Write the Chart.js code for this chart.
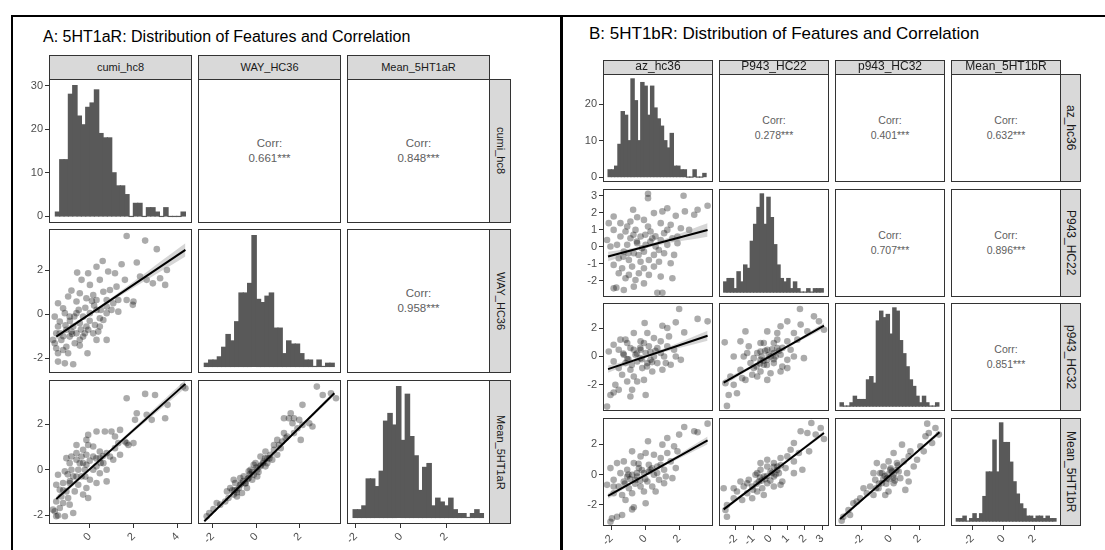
<!DOCTYPE html>
<html>
<head>
<meta charset="utf-8">
<script src="https://cdn.jsdelivr.net/npm/chart.js@4.4.0/dist/chart.umd.min.js"></script>
<style>
  body { margin: 0; background: #fff; font-family: "Liberation Sans", Arial, sans-serif; }
  #page { position: relative; width: 1105px; height: 550px; overflow: hidden; background: #fff; }
  #page canvas { position: absolute; }
  .rule { position: absolute; background: #000; }
  .title { position: absolute; color: #000; white-space: nowrap; line-height: 1; }
  .strip { position: absolute; box-sizing: border-box; background: #d9d9d9; border: 1px solid #333;
           color: #1a1a1a; display: flex; align-items: center; justify-content: center; white-space: nowrap; }
  .strip.side { writing-mode: vertical-rl; }
  .box { position: absolute; box-sizing: border-box; border: 1px solid #333; pointer-events: none; z-index: 2; }
  .corr { position: absolute; display: flex; flex-direction: column; align-items: center; justify-content: center;
          color: #606060; line-height: 15px; }
</style>
</head>
<body>
<div id="page"></div>
<script>
// ---------- A: 5HT1aR ----------
const varsA = ['cumi_hc8', 'WAY_HC36', 'Mean_5HT1aR'];
const limitsA = [[-1.85, 4.65], [-2.68, 3.89], [-2.38, 3.94]];
const ticksA = [[0, 2, 4], [-2, 0, 2], [-2, 0, 2]];
const countTicksA = [0, 10, 20, 30];
const corrA = { '0-1': '0.661***', '0-2': '0.848***', '1-2': '0.958***' };

// histograms: counts per bin, [first bin edge, bin width]
const countsA1 = [1, 13, 13, 28, 30, 23, 21, 25, 26, 29, 19, 18, 18, 10, 7, 7, 5, 0, 3, 3, 0, 2, 2, 1, 0, 2, 0, 0, 0, 1];
const binsA1 = [-1.56, 0.197];
const countsA2 = [1, 2, 2, 3, 6, 10, 8, 14, 23, 23, 26, 41, 21, 20, 22, 23, 12, 12, 4, 8, 7, 7, 4, 2, 2, 0, 2, 0, 1, 1];
const binsA2 = [-2.39, 0.199];
const countsA3 = [2, 2, 3, 10, 10, 8, 12, 25, 27, 24, 34, 20, 32, 21, 16, 7, 13, 14, 3, 5, 4, 3, 5, 2, 1, 1, 0, 1, 2, 1];
const binsA3 = [-2.11, 0.192];

// scatter points [x, y], fitted line ends, band [x, half width]
const ptsA21 = [[1.68,3.57],[2.52,3.36],[3.05,2.97],[0.59,2.43],[1.45,2.28],[2.14,2.36],[0.31,2.17],[0.84,1.95],[1.15,1.87],[-0.07,1.87],[-0.57,1.90],[3.51,2.02],[3.20,1.64],[2.87,1.41],[3.43,1.34],[2.59,1.57],[2.29,1.72],[1.60,1.57],[1.22,1.26],[0.46,1.57],[0.01,1.34],[-0.37,1.57],[-0.83,1.08],[-0.45,0.96],[0.16,0.88],[0.62,1.03],[0.92,1.11],[1.68,0.65],[1.99,0.58],[1.96,0.43],[1.30,0.65],[0.77,0.65],[0.31,0.65],[-0.15,0.73],[-0.60,0.58],[-0.98,0.81],[-1.44,0.50],[-1.21,0.27],[-1.59,-0.11],[-1.36,-0.33],[-1.52,-0.87],[-1.06,-0.71],[-0.91,-1.02],[-0.75,-0.56],[-0.45,-0.41],[-0.15,-0.56],[-0.30,-0.11],[0.01,0.05],[0.31,0.20],[0.46,-0.18],[0.77,0.05],[0.99,0.20],[0.46,-0.56],[0.16,-0.87],[0.77,0.35],[1.07,0.50],[1.30,0.12],[-0.60,0.05],[-0.91,-0.11],[-1.13,0.05],[-1.44,-0.56],[-1.29,-1.17],[-1.06,-1.48],[-1.44,-1.78],[-1.21,-1.63],[-0.98,-1.78],[-0.68,-1.32],[-0.45,-1.17],[-0.30,-1.02],[-0.07,-0.71],[0.24,-0.49],[0.39,-0.79],[0.62,-0.26],[-1.59,-1.32],[-1.44,-2.16],[-1.13,-2.24],[-0.75,-2.28],[-1.52,-1.55],[-0.45,-1.43],[-0.10,-1.78],[0.31,-1.17],[0.77,-1.17],[-0.83,-0.79],[-0.22,-0.87],[-0.60,-0.87],[-1.36,-0.87],[-1.67,-1.17],[-0.9,-0.3],[-0.7,-0.1],[-0.5,0.2],[-0.2,0.3],[0,-0.3],[0.2,0.4],[-1.1,-0.5],[-0.4,-0.7],[0.1,0.6],[0.5,0.2],[-1.2,-1.0],[-0.8,-0.9]];
const fitA21 = [[-1.52, -1.02], [4.35, 2.94]];
const bandA21 = [[-1.52, 0.15], [0.3, 0.06], [4.35, 0.3]];

const ptsA31 = [[4.24,3.65],[4.35,3.58],[2.52,3.33],[2.97,3.28],[3.54,2.85],[1.68,3.14],[2.14,2.48],[2.59,2.41],[2.82,2.19],[3.43,2.26],[2.06,2.19],[1.38,1.75],[0.99,1.68],[0.69,1.68],[0.31,1.68],[1.15,1.46],[1.60,1.24],[1.99,1.17],[1.76,1.09],[1.30,1.17],[-0.15,1.31],[-0.07,1.09],[-0.60,1.09],[-0.30,0.88],[0.16,1.02],[0.46,0.80],[0.77,0.73],[0.92,0.58],[1.07,0.44],[0.46,0.51],[0.16,0.58],[-0.15,0.66],[-0.37,0.58],[-0.60,0.44],[-0.91,0.29],[-1.06,0.51],[-0.45,0.29],[-0.15,0.22],[0.31,0.15],[0.62,0.29],[0.77,0.0],[0.46,-0.15],[0.16,0.0],[-0.22,0.0],[-0.52,0.0],[-0.83,0.0],[-1.13,-0.07],[-0.75,-0.29],[-0.37,-0.29],[0.01,-0.44],[0.31,-0.58],[0.77,-0.51],[-0.15,-0.80],[-0.52,-0.66],[-0.91,-0.58],[-1.21,-0.58],[-1.44,-0.22],[-1.52,-0.66],[-1.36,-0.88],[-1.06,-0.95],[-0.68,-0.95],[-0.30,-1.09],[-0.07,-1.24],[-0.98,-1.24],[-1.29,-1.17],[-1.52,-1.39],[-1.21,-1.46],[-0.91,-1.53],[-1.36,-1.68],[-1.59,-1.82],[-1.44,-2.01],[-1.13,-2.04],[-0.75,-1.90],[-1.52,-2.04],[-1.67,-1.75],[1.15,0.95],[1.68,1.17],[-0.07,1.53],[1.38,0.66],[-0.60,0.73],[-0.83,0.58],[-0.3,0.3],[0,0.4],[0.3,0.5],[-0.6,-0.3],[-0.9,-0.5],[-1.2,-0.9],[0.6,0.6],[-0.2,-0.3],[0.5,0.3],[-1.0,-0.2]];
const fitA31 = [[-1.52, -1.28], [4.35, 3.77]];
const bandA31 = [[-1.52, 0.12], [0.3, 0.05], [4.35, 0.18]];

const ptsA32 = [[-2.28,-2.04],[-2.16,-1.90],[-1.97,-1.72],[-1.66,-1.53],[-1.28,-1.24],[-1.04,-1.09],[-1.20,-0.80],[-0.89,-0.88],[-0.74,-0.66],[-0.97,-0.58],[-0.50,-0.58],[-0.35,-0.36],[-0.58,-0.29],[-0.12,-0.22],[-0.27,0.0],[0.04,0.0],[0.19,0.15],[0.34,0.36],[-0.04,0.29],[0.50,0.51],[0.65,0.66],[0.42,0.80],[0.81,0.88],[1.04,1.09],[1.19,1.24],[0.96,1.31],[1.35,1.39],[1.27,2.26],[1.50,2.26],[1.66,2.04],[1.73,1.61],[2.12,1.97],[2.43,2.04],[2.12,2.85],[2.78,3.65],[3.05,3.28],[3.43,3.36],[3.66,3.14],[1.58,2.48],[1.89,1.82],[1.42,1.46],[0.73,0.44],[-0.19,-0.44],[-0.66,-1.02],[-0.43,-0.80],[-1.43,-1.39],[-1.82,-1.46],[-1.04,-0.44],[0.19,0.58],[0.42,0.15],[0.04,-0.29],[-0.35,-0.07],[-0.74,-0.36],[-1.35,-0.95],[-0.89,-1.17],[-0.12,0.22],[0.50,0.29],[0.96,0.66],[1.12,0.95],[0.81,1.09],[1.73,2.26],[1.97,2.19],[1.27,1.61],[2.58,1.90],[2.04,1.31],[-0.8,-0.8],[-0.6,-0.5],[-0.4,-0.4],[-0.2,-0.1],[0.0,0.1],[0.2,0.2],[0.4,0.5],[-1.0,-0.9],[-0.5,-0.6],[0.1,-0.1],[0.6,0.5],[-0.3,-0.2],[-0.9,-1.0],[-1.1,-0.9],[0.3,0.3],[-0.7,-0.6]];
const fitA32 = [[-2.39, -2.26], [3.585, 3.36]];
const bandA32 = [[-2.39, 0.08], [0.0, 0.03], [3.585, 0.1]];

// ---------- B: 5HT1bR ----------
const varsB = ['az_hc36', 'P943_HC22', 'p943_HC32', 'Mean_5HT1bR'];
const limitsB = [[-2.5, 4.0], [-2.97, 3.39], [-3.84, 3.76], [-3.38, 3.71]];
const ticksB = [[-2, 0, 2], [-2, -1, 0, 1, 2, 3], [-2, 0, 2], [-2, 0, 2]];
const countTicksB = [0, 10, 20];
const corrB = { '0-1': '0.278***', '0-2': '0.401***', '0-3': '0.632***', '1-2': '0.707***', '1-3': '0.896***', '2-3': '0.851***' };

const countsB1 = [2, 2, 3, 9, 18, 17, 10, 27, 21, 10, 26, 25, 17, 25, 19, 16, 14, 10, 8, 12, 3, 3, 2, 2, 0, 0, 2, 0, 0, 1];
const binsB1 = [-2.20, 0.193];
const countsB2 = [3, 4, 4, 1, 6, 3, 8, 7, 15, 20, 25, 29, 20, 28, 22, 14, 8, 4, 3, 4, 1, 3, 1, 0, 0, 1, 0, 1, 1, 1];
const binsB2 = [-2.70, 0.192];
const countsB3 = [1, 0, 0, 1, 3, 2, 2, 2, 8, 9, 7, 26, 29, 27, 28, 22, 30, 29, 20, 16, 12, 8, 6, 3, 1, 3, 1, 0, 0, 1];
const binsB3 = [-3.49, 0.2275];
const countsB4 = [1, 1, 2, 0, 1, 3, 1, 3, 10, 20, 20, 33, 20, 40, 32, 32, 24, 16, 11, 7, 5, 2, 2, 1, 2, 2, 1, 2, 1, 1];
const binsB4 = [-3.04, 0.2143];

const ptsB21 = [[0.16,3.11],[0.16,2.85],[2.26,2.99],[-0.72,2.17],[1.30,2.26],[1.01,2.07],[3.68,2.40],[3.09,2.17],[2.89,1.87],[2.34,2.07],[1.80,1.81],[0.51,1.97],[-0.48,1.73],[-1.87,1.77],[-2.16,1.38],[-1.47,1.38],[-0.88,1.48],[-0.08,1.57],[0.91,1.38],[1.50,1.28],[2.10,1.08],[2.59,0.98],[-1.87,0.98],[-1.17,0.89],[-0.58,0.98],[0.31,0.89],[1.11,0.79],[-1.47,0.59],[-0.88,0.49],[-0.28,0.59],[0.41,0.49],[0.91,0.39],[1.60,0.49],[-2.06,0.0],[-1.67,0.10],[-1.07,0.10],[-0.48,0.20],[0.02,0.10],[0.61,0.0],[1.30,0.10],[1.90,0.20],[-1.27,-0.30],[-0.68,-0.39],[-0.08,-0.30],[0.51,-0.49],[1.11,-0.39],[1.70,-0.49],[-1.57,-0.69],[-0.97,-0.79],[-0.28,-0.89],[0.21,-0.79],[0.81,-0.89],[-1.87,-1.08],[-1.37,-1.28],[-0.78,-1.18],[-0.08,-1.28],[0.51,-1.18],[1.50,-0.98],[-1.57,-1.57],[-0.97,-1.67],[-0.38,-1.57],[0.21,-1.67],[-1.17,-1.87],[-0.58,-1.97],[0.91,-1.77],[1.60,-1.87],[-0.08,-2.17],[-1.87,-2.46],[-1.71,-2.42],[-1.27,-2.56],[-0.68,-2.36],[0.71,-2.72],[1.01,-2.72],[1.90,0.59],[1.30,0.98],[0.16,1.18],[-1.07,1.18],[-2.26,0.39],[-0.5,0.3],[-0.2,-0.1],[0.3,0.3],[-1.0,-0.4],[-0.7,0.7],[0.0,0.7],[-1.3,-0.6],[0.6,0.6],[-0.4,-0.5],[0.8,-0.2]];
const fitB21 = [[-2.20, -0.59], [3.68, 0.98]];
const bandB21 = [[-2.2, 0.28], [0.1, 0.09], [3.68, 0.4]];

const ptsB31 = [[2.0,3.34],[3.68,2.47],[3.09,2.64],[1.80,2.40],[-0.04,2.35],[1.01,2.16],[1.30,2.0],[2.30,1.69],[1.40,1.41],[-0.68,1.65],[0.12,1.65],[-1.47,1.18],[-1.87,0.82],[-1.07,0.94],[-0.28,1.06],[0.51,1.29],[0.91,1.06],[-2.16,0.35],[-1.57,0.47],[-0.88,0.59],[-0.28,0.47],[0.21,0.71],[0.71,0.59],[1.30,0.71],[1.70,0.47],[-1.27,0.12],[-0.58,0.12],[0.02,0.24],[0.51,0.0],[1.11,0.0],[1.80,0.0],[-1.87,-0.35],[-1.17,-0.47],[-0.48,-0.35],[0.12,-0.47],[0.71,-0.47],[1.50,-0.59],[-1.57,-0.82],[-0.88,-0.94],[-0.18,-0.82],[0.41,-1.06],[1.01,-0.94],[-1.37,-1.29],[-0.68,-1.41],[-0.08,-1.65],[-1.07,-1.76],[-0.48,-1.76],[-1.77,-2.0],[-0.78,-2.35],[0.02,-2.71],[-2.06,-2.71],[-1.87,-2.54],[-1.57,-2.35],[-0.88,-2.82],[-2.26,-3.53],[-1.07,-0.19],[-0.28,-0.12],[0.31,-0.24],[-0.68,0.47],[-0.08,0.94],[0.91,0.24],[1.21,-0.47],[2.10,-0.24],[-1.17,1.18],[-0.5,0.2],[-0.2,-0.2],[0.3,0.3],[-1.0,-0.2],[0.6,0.4],[-0.3,0.6],[-0.8,-0.6],[0.1,-0.7],[0.4,-0.4],[-1.3,0.2]];
const fitB31 = [[-2.20, -0.89], [3.68, 1.46]];
const bandB31 = [[-2.2, 0.25], [0.1, 0.08], [3.68, 0.35]];

const ptsB41 = [[3.68,3.34],[2.89,2.84],[2.30,3.12],[2.0,2.62],[3.09,2.77],[1.30,2.40],[0.16,2.18],[-0.78,1.52],[0.02,1.41],[0.51,1.30],[1.01,1.96],[1.70,1.85],[1.90,1.52],[-0.28,1.19],[0.91,1.08],[1.50,0.86],[-1.27,0.86],[-1.67,0.75],[-0.68,0.75],[0.21,0.64],[0.71,0.53],[-2.06,0.42],[-1.07,0.31],[-0.38,0.42],[1.11,0.31],[1.80,0.42],[-1.47,0.09],[-0.78,-0.02],[-0.08,0.09],[0.51,-0.02],[1.21,-0.13],[-2.26,-0.68],[-1.87,-0.35],[-1.27,-0.46],[-0.58,-0.35],[0.12,-0.46],[0.81,-0.35],[1.60,-0.24],[-1.57,-0.79],[-0.97,-0.90],[-0.28,-0.79],[0.41,-0.79],[1.11,-0.57],[-1.37,-1.34],[-0.78,-1.23],[-0.08,-1.12],[0.61,-1.12],[-1.87,-1.23],[-1.17,-1.67],[-0.68,-2.15],[-0.78,-2.29],[0.02,-1.89],[-1.97,-2.88],[-1.67,-2.77],[-1.37,-2.66],[-2.06,-3.10],[-0.48,-0.13],[-1.07,-0.13],[0.31,0.31],[0.91,0.64],[1.30,1.41],[-1.87,-0.79],[-0.5,0.1],[-0.2,0.3],[0.2,0.2],[-0.9,-0.3],[-0.6,-0.6],[0.4,0.4],[-1.2,-0.6],[0.0,-0.3],[-0.3,-0.4],[0.7,0.1],[-1.0,0.0],[-0.4,0.7]];
const fitB41 = [[-2.20, -1.41], [3.68, 2.24]];
const bandB41 = [[-2.2, 0.18], [0.1, 0.06], [3.68, 0.25]];

const ptsB32 = [[1.71,3.34],[2.81,2.47],[3.10,1.88],[2.52,2.82],[1.75,2.24],[0.98,2.47],[0.59,2.12],[2.14,1.76],[1.36,1.65],[0.40,1.65],[-0.18,1.76],[-1.44,1.76],[-2.64,0.99],[-1.73,1.06],[-1.25,0.71],[-0.57,0.94],[0.20,0.94],[0.98,1.06],[1.56,1.18],[-2.12,0.0],[-1.54,0.0],[-0.76,0.24],[-0.18,0.47],[0.40,0.59],[1.17,0.47],[1.94,-0.12],[-1.15,-0.47],[-0.57,-0.24],[0.01,0.0],[0.59,0.12],[0.98,-0.24],[-1.73,-0.94],[-0.96,-0.82],[-0.38,-0.59],[0.20,-0.47],[0.69,-0.71],[-2.31,-1.41],[-1.63,-1.53],[-1.05,-1.29],[-0.57,-1.06],[0.01,-1.18],[0.59,-1.06],[-2.60,-1.88],[-2.12,-2.0],[-1.44,-1.65],[-2.41,-2.71],[-1.93,-2.59],[-2.51,-3.48],[-0.76,-1.41],[-0.18,-1.65],[0.98,-0.82],[1.36,0.0],[-0.18,-0.24],[-0.57,0.35],[0.20,0.24],[-0.96,-0.12],[-1.34,0.24],[0.40,1.18],[-0.38,0.94],[-0.4,-0.3],[-0.1,0.1],[0.2,-0.2],[-0.6,-0.5],[0.5,0.4],[-0.3,0.4],[0.1,0.5],[-0.8,-0.7],[0.3,0.0],[-0.2,-0.6],[0.7,0.6],[-0.5,0.0]];
const fitB32 = [[-2.70, -1.84], [3.10, 2.16]];
const bandB32 = [[-2.7, 0.2], [0.0, 0.06], [3.1, 0.2]];

const ptsB42 = [[2.37,3.38],[2.91,3.05],[1.75,2.84],[2.14,2.73],[2.62,2.62],[3.10,2.33],[2.24,1.52],[1.36,2.07],[1.17,1.63],[1.65,1.41],[0.98,1.19],[0.59,1.08],[1.36,0.86],[0.20,0.75],[-0.18,0.53],[0.40,0.53],[0.88,0.42],[-0.57,0.31],[0.01,0.20],[0.49,0.09],[-0.86,-0.02],[-0.38,-0.13],[0.20,-0.13],[0.69,-0.46],[-1.25,-0.35],[-0.67,-0.46],[-0.18,-0.57],[-1.54,-0.79],[-1.05,-0.79],[-0.47,-0.90],[0.20,-0.79],[-1.93,-1.12],[-1.34,-1.23],[-0.76,-1.12],[-2.12,-1.56],[-1.63,-1.67],[-1.05,-1.56],[-2.51,-2.0],[-2.60,-2.33],[-2.51,-2.77],[-2.70,-0.90],[-2.12,-0.90],[-1.73,-0.46],[-1.34,-0.57],[-0.38,-1.34],[0.59,-0.68],[1.36,0.09],[1.85,0.31],[-0.18,0.97],[-0.57,0.75],[-0.76,0.09],[-0.5,-0.4],[-0.2,-0.1],[0.1,0.1],[0.4,0.3],[-0.8,-0.6],[-0.3,-0.3],[0.3,0.0],[-0.6,-0.2],[0.6,0.6],[-1.0,-1.0],[0.0,-0.4],[0.2,0.5]];
const fitB42 = [[-2.70, -2.29], [3.10, 2.73]];
const bandB42 = [[-2.7, 0.14], [0.0, 0.04], [3.1, 0.14]];

const ptsB43 = [[2.53,3.34],[3.10,3.05],[3.34,2.62],[2.64,2.73],[2.41,2.51],[2.06,1.85],[0.79,1.96],[1.37,1.52],[1.25,1.19],[0.91,0.86],[0.21,1.41],[0.44,0.75],[-0.14,0.86],[-0.95,0.75],[-0.02,0.31],[-0.72,0.09],[0.56,0.20],[1.14,0.09],[1.25,-0.46],[0.67,-0.24],[-0.25,-0.24],[-1.06,-0.35],[-0.60,-0.57],[0.21,-0.57],[-1.41,-0.79],[-0.83,-0.90],[-0.14,-1.12],[-1.87,-0.90],[-1.64,-1.23],[-1.18,-1.34],[-0.37,-1.34],[-2.34,-1.78],[-2.10,-1.56],[-2.57,-1.89],[-2.91,-2.33],[-3.26,-2.77],[-2.80,-2.66],[-3.38,-3.03],[1.02,-1.01],[1.60,0.53],[1.83,0.97],[2.29,1.52],[2.87,2.07],[-0.48,0.53],[0.21,0.0],[-1.18,0.09],[-0.5,-0.3],[-0.2,0.0],[0.1,0.2],[-0.8,-0.6],[0.4,0.3],[-0.3,-0.6],[0.2,-0.2],[-0.6,0.1],[0.5,0.6],[-1.0,-0.9],[0.0,0.4],[-0.4,-0.1],[0.3,-0.4],[-0.1,-0.3]];
const fitB43 = [[-3.49, -2.92], [3.38, 2.77]];
const bandB43 = [[-3.49, 0.16], [0.0, 0.04], [3.38, 0.16]];

// ---------- layout ----------
const FONT = '"Liberation Sans", Arial, sans-serif';
const page = document.getElementById('page');

const layoutA = { cols: [49, 198, 347], rows: [79, 229, 380], w: 143, h: 144, axisLeft: 30, axisBottom: 24,
                  strip: 24, side: 22, stripFont: 11, stripPad: 0, corrFont: 11.5 };
const layoutB = { cols: [603, 719, 835, 951], rows: [74, 189, 303, 418], w: 110, h: 108, axisLeft: 24, axisBottom: 24,
                  strip: 14, side: 21, stripFont: 12, stripPad: 3, corrFont: 10.5 };

function addDiv(cls, x, y, w, h, html, extra) {
  const d = document.createElement('div');
  d.className = cls;
  d.style.left = x + 'px';
  d.style.top = y + 'px';
  if (w != null) d.style.width = w + 'px';
  if (h != null) d.style.height = h + 'px';
  if (html) d.innerHTML = html;
  if (extra) Object.assign(d.style, extra);
  page.appendChild(d);
  return d;
}

function axis(kind, show, lim, ticks, size) {
  return {
    type: 'linear', display: show, min: lim[0], max: lim[1], offset: false,
    grid: { display: true, offset: false, drawOnChartArea: false, drawTicks: true, tickLength: 4, tickColor: '#333', lineWidth: 1 },
    border: { display: false },
    ticks: {
      color: '#4d4d4d', font: { family: FONT, size: 11 }, padding: 2, autoSkip: false,
      minRotation: kind === 'x' ? 45 : 0, maxRotation: kind === 'x' ? 45 : 0,
      callback: v => String(v)
    },
    afterBuildTicks: s => { s.ticks = ticks.map(v => ({ value: v })); },
    afterFit: s => {
      if (!show) return;
      if (kind === 'x') s.height = size; else s.width = size;
      s.paddingLeft = 0; s.paddingRight = 0; s.paddingTop = 0; s.paddingBottom = 0;
    }
  };
}

function panelChart(L, x, y, showX, showY, type, datasets, xLim, yLim, xTicks, yTicks) {
  const ml = showY ? L.axisLeft : 0;
  const mb = showX ? L.axisBottom : 0;
  const c = document.createElement('canvas');
  c.width = L.w + ml;
  c.height = L.h + mb;
  c.style.left = (x - ml) + 'px';
  c.style.top = y + 'px';
  page.appendChild(c);
  new Chart(c, {
    type: type,
    data: { datasets: datasets },
    options: {
      responsive: false, animation: false, events: [],
      layout: { padding: 0, autoPadding: false },
      plugins: { legend: { display: false }, tooltip: { enabled: false } },
      scales: {
        x: axis('x', showX, xLim, xTicks, L.axisBottom),
        y: axis('y', showY, yLim, yTicks, L.axisLeft)
      }
    }
  });
}

function lineY(fit, x) {
  const [[x1, y1], [x2, y2]] = fit;
  return y1 + (y2 - y1) * (x - x1) / (x2 - x1);
}

function histSets(counts, bins) {
  return [{
    data: counts.map((n, i) => ({ x: bins[0] + (i + 0.5) * bins[1], y: n })),
    backgroundColor: '#595959', borderWidth: 0, barPercentage: 1, categoryPercentage: 1, inflateAmount: 0.6
  }];
}

function scatterSets(pts, fit, band) {
  return [
    { data: fit.map(([x, y]) => ({ x, y })), showLine: true, borderColor: '#000', borderWidth: 2, pointRadius: 0, order: 1 },
    { data: band.map(([x, hw]) => ({ x, y: lineY(fit, x) + hw })), showLine: true, tension: 0.4,
      borderColor: 'rgba(0,0,0,0)', pointRadius: 0, fill: '+1', backgroundColor: 'rgba(153,153,153,0.4)', order: 2 },
    { data: band.map(([x, hw]) => ({ x, y: lineY(fit, x) - hw })), showLine: true, tension: 0.4,
      borderColor: 'rgba(0,0,0,0)', pointRadius: 0, fill: false, order: 2 },
    { data: pts.map(([x, y]) => ({ x, y })), pointRadius: 3.3, backgroundColor: 'rgba(0,0,0,0.33)',
      borderColor: 'rgba(0,0,0,0)', pointBorderWidth: 0, order: 3 }
  ];
}

function buildMatrix(L, vars, limits, ticks, countTicks, hists, scatters, corrs) {
  const n = vars.length;
  const stripStyle = { fontSize: L.stripFont + 'px', lineHeight: L.stripFont + 'px' };
  for (let i = 0; i < n; i++) {
    for (let j = 0; j < n; j++) {
      const x = L.cols[j], y = L.rows[i];
      const showX = i === n - 1, showY = j === 0;
      if (i === j) {
        const [counts, bins] = hists[i];
        const top = Math.max(...counts);
        panelChart(L, x, y, showX, showY, 'bar', histSets(counts, bins),
          limits[j], [-0.05 * top, 1.05 * top], ticks[j], j === 0 ? countTicks : []);
      } else if (i > j) {
        const [pts, fit, band] = scatters[i + '-' + j];
        panelChart(L, x, y, showX, showY, 'scatter', scatterSets(pts, fit, band),
          limits[j], limits[i], ticks[j], ticks[i]);
      } else {
        addDiv('corr', x, y, L.w, L.h, '<div>Corr:</div><div>' + corrs[i + '-' + j] + '</div>', { fontSize: L.corrFont + 'px' });
      }
      addDiv('box', x, y, L.w, L.h);
    }
    // strips
    addDiv('strip', L.cols[i], L.rows[0] - L.strip, L.w, L.strip + 1, vars[i],
      Object.assign({ paddingBottom: L.stripPad + 'px' }, stripStyle));
    addDiv('strip side', L.cols[n - 1] + L.w - 1, L.rows[i], L.side, L.h, vars[i], stripStyle);
  }
}

// frame and titles
addDiv('rule', 11, 15, 1094, 2);
addDiv('rule', 11, 15, 2, 535);
addDiv('rule', 560, 15, 3, 535);
addDiv('title', 43, 29, null, null, 'A: 5HT1aR: Distribution of Features and Correlation', { fontSize: '16px' });
addDiv('title', 589, 25, null, null, 'B: 5HT1bR: Distribution of Features and Correlation', { fontSize: '17px' });

buildMatrix(layoutA, varsA, limitsA, ticksA, countTicksA,
  [[countsA1, binsA1], [countsA2, binsA2], [countsA3, binsA3]],
  { '1-0': [ptsA21, fitA21, bandA21], '2-0': [ptsA31, fitA31, bandA31], '2-1': [ptsA32, fitA32, bandA32] },
  corrA);

buildMatrix(layoutB, varsB, limitsB, ticksB, countTicksB,
  [[countsB1, binsB1], [countsB2, binsB2], [countsB3, binsB3], [countsB4, binsB4]],
  { '1-0': [ptsB21, fitB21, bandB21], '2-0': [ptsB31, fitB31, bandB31], '3-0': [ptsB41, fitB41, bandB41],
    '2-1': [ptsB32, fitB32, bandB32], '3-1': [ptsB42, fitB42, bandB42], '3-2': [ptsB43, fitB43, bandB43] },
  corrB);
</script>
</body>
</html>
